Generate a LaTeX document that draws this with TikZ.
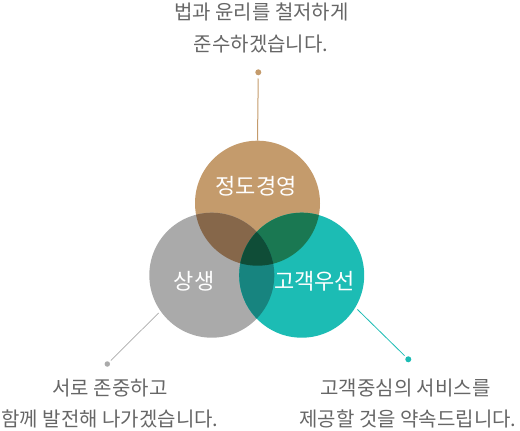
\documentclass[tikz,border=0pt]{standalone}
\usepackage{fontspec}
\setmainfont{Noto Sans CJK KR}
\definecolor{tanc}{HTML}{C49B6C}
\definecolor{grayc}{HTML}{AAAAAA}
\definecolor{tealc}{HTML}{1CBCB4}
\definecolor{tgc}{HTML}{86674A}
\definecolor{ttc}{HTML}{1A7852}
\definecolor{gtc}{HTML}{17847F}
\definecolor{allc}{HTML}{0F4D37}
\definecolor{txtc}{HTML}{666666}
\tikzset{
  ring/.style={circle, inner sep=0pt, minimum size=125pt, draw=none},
  caption/.style={anchor=base, text=txtc, inner sep=0pt, font=\fontsize{20pt}{24pt}\selectfont},
  ringlabel/.style={anchor=base, text=white, inner sep=0pt, font=\fontsize{22pt}{26pt}\selectfont},
  dot/.style={circle, inner sep=0pt, minimum size=6pt},
}
\begin{document}
\begin{tikzpicture}[x=1pt,y=-1pt]
\useasboundingbox (0,0) rectangle (520,431);
% circles
\node[ring, fill=tanc] (jd) at (257.5,203.2) {};
\node[ring, fill=grayc] (sg) at (211.8,275.2) {};
\node[ring, fill=tealc] (gk) at (301.7,275.2) {};
% pairwise overlaps
\begin{scope}
  \clip (jd.center) circle (62.5pt);
  \fill[tgc] (sg.center) circle (62.5pt);
\end{scope}
\begin{scope}
  \clip (jd.center) circle (62.5pt);
  \fill[ttc] (gk.center) circle (62.5pt);
\end{scope}
\begin{scope}
  \clip (sg.center) circle (62.5pt);
  \fill[gtc] (gk.center) circle (62.5pt);
\end{scope}
\begin{scope}
  \clip (jd.center) circle (62.5pt);
  \clip (sg.center) circle (62.5pt);
  \fill[allc] (gk.center) circle (62.5pt);
\end{scope}
% ring labels
\node[ringlabel] (ljd) at (256,194.8) {정도경영};
\node[ringlabel] (lsg) at (194,289.8) {상생};
\node[ringlabel] (lgk) at (314.7,289.8) {고객우선};
% dots and connectors
\node[dot, fill=tanc] (dtop) at (258.3,72.3) {};
\node[dot, fill=grayc, minimum size=5.5pt] (dleft) at (107.3,364) {};
\node[dot, fill=tealc] (dright) at (408.3,359.3) {};
\draw[tanc, line width=1pt, shorten <=3pt] (dtop) -- (jd.north);
\draw[grayc, line width=0.7pt, shorten <=2pt, shorten >=2.5pt] (dleft) -- (sg.215.4);
\draw[tealc, line width=0.8pt, shorten <=2pt, shorten >=2.7pt] (dright) -- (gk.-31.5);
% captions
\node[caption] (ta) at (261.5,19.5) {법과 윤리를 철저하게};
\node[caption] (tb) at (261,51) {준수하겠습니다.};
\node[caption] (la) at (110,395) {서로 존중하고};
\node[caption] (lb) at (110,426) {함께 발전해 나가겠습니다.};
\node[caption] (ra) at (405.5,395) {고객중심의 서비스를};
\node[caption] (rb) at (408,426) {제공할 것을 약속드립니다.};
\end{tikzpicture}
\end{document}
